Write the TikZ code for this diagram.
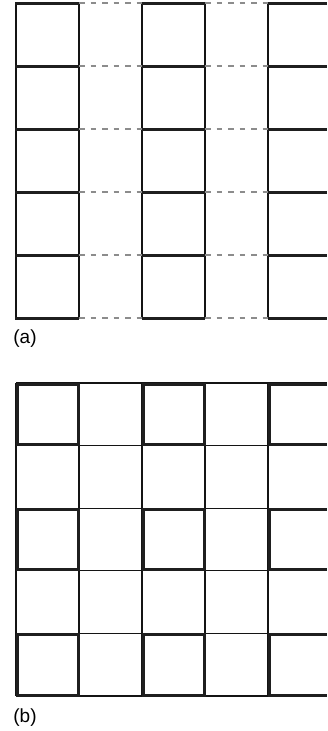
\documentclass[tikz,border=0pt]{standalone}
\usepackage{fontspec}
\setmainfont{Liberation Sans}
\begin{document}
\begin{tikzpicture}[x=1pt,y=-1pt,
  thin grid/.style={line width=1.1pt, black!92},
  thick edge/.style={line width=3pt, black!88, line cap=butt},
  gap dash/.style={line width=1.4pt, black!45, dash pattern=on 5.5pt off 6pt},
  thick square/.style={line width=3pt, black!88},
  panel label/.style={font=\fontsize{19}{22}\selectfont, inner sep=0pt}]
\useasboundingbox (0,0) rectangle (327,731);
% ---------- panel (a) ----------
\foreach \x in {16,79,142,205,268}
  \draw[thin grid] (\x,3) -- (\x,318);
\foreach \y in {3,66,129,192,255,318}{
  \draw[gap dash] (79,\y) -- (142,\y);
  \draw[gap dash] (205,\y) -- (268,\y);
  \draw[thick edge] (15,\y) -- (79,\y);
  \draw[thick edge] (142,\y) -- (205,\y);
  \draw[thick edge] (268,\y) -- (327,\y);
}
\node[panel label] (la) at (25,339) {(a)};
% ---------- panel (b) ----------
\foreach \x in {16,79,142,205,268}
  \draw[thin grid] (\x,383) -- (\x,696);
\foreach \y in {383,445.6,508.2,570.8,633.4,696}
  \draw[thin grid] (16,\y) -- (327,\y);
\foreach \y/\yy in {383/445.6,508.2/570.8,633.4/696}{
  \draw[thick square] (17,\y+1) rectangle (78,\yy-1);
  \draw[thick square] (143,\y+1) rectangle (204,\yy-1);
  \draw[thick square] (269,\y+1) -- (269,\yy-1);
  \draw[thick square] (267.5,\y+1) -- (327,\y+1);
  \draw[thick square] (267.5,\yy-1) -- (327,\yy-1);
}
\node[panel label] (lb) at (25,718) {(b)};
\end{tikzpicture}
\end{document}
